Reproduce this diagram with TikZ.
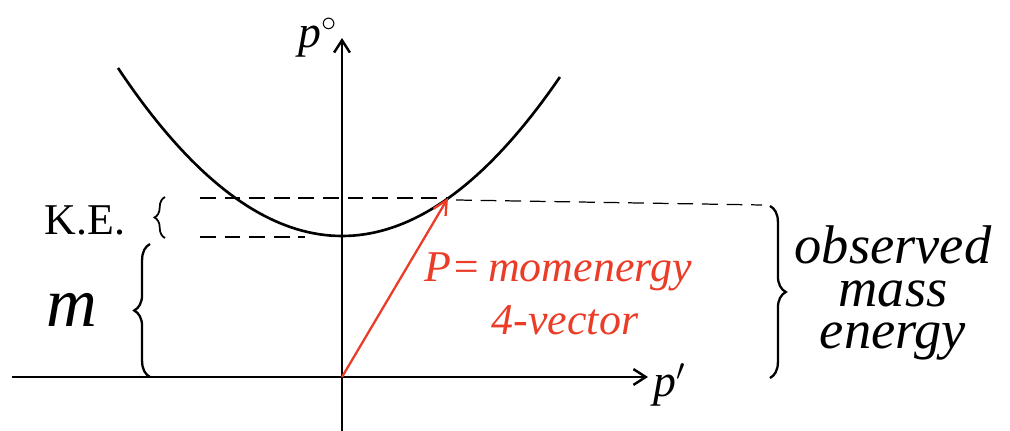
\documentclass[tikz,border=0pt]{standalone}
\usepackage{fontspec}
\setmainfont{Liberation Serif}
\usetikzlibrary{decorations.pathreplacing,arrows.meta}
\begin{document}
\begin{tikzpicture}[x=0.02cm,y=-0.02cm,
  every node/.style={inner sep=0pt},
  axis/.style={line width=1.4pt,-{Straight Barb[length=7pt,width=9pt]}},
  dsh/.style={dashed,dash pattern=on 9pt off 5pt,line width=0.7pt},
  brc/.style={decorate,decoration={brace,amplitude=9pt},line width=1.3pt},
  hand/.style={font=\itshape\fontsize{31}{24}\selectfont,align=center},
  redhand/.style={font=\itshape\fontsize{25}{26}\selectfont},
  red1/.style={color={rgb,255:red,235;green,60;blue,40}}]
\useasboundingbox (0,0) rectangle (1010,431);
\coordinate (O) at (342,377);
\coordinate (xa) at (648,377);
\coordinate (ya) at (342,38);
\coordinate (xl) at (12,377);
\coordinate (yb) at (342,431);
\coordinate (T) at (448,198);
\coordinate (V) at (342,236);
% axes
\draw[axis] (xl) -- (xa);
\draw[axis] (yb) -- (ya);
\node[font=\itshape\fontsize{26}{28}\selectfont] (px) at (670,385) {p$'$};
\node[font=\itshape\fontsize{26}{28}\selectfont] (p0) at (318,38) {p$^{\circ}$};
% curve
\draw[line width=1.5pt,domain=-2.24:2.18,samples=80] plot ({342+100*\x},{236-33.48*\x*\x});
% dashed lines
\draw[dsh] (200,198) -- (T);
\draw[dsh] (T) ++(8,2) -- (762,205);
\draw[dsh] (200,237) -- (305,237);
% red arrow
\draw[red1,line width=1.3pt,-{Straight Barb[length=8pt,width=8pt]}] (O) -- (T);
\node[red1,redhand,anchor=base] (pl1) at (558,282) {P=\,momenergy};
\node[red1,redhand,anchor=base] (pl2) at (565,335) {4-vector};
% left labels
\node[font=\fontsize{25}{26}\selectfont] (ke) at (85,220) {K.E.};
\draw[brc,line width=1pt,decoration={brace,amplitude=6pt}] (165,238) -- (165,197);
\node[font=\itshape\fontsize{40}{40}\selectfont] (m) at (72,310) {m};
\draw[brc] (150,377) -- (150,244);
% right brace and text
\draw[brc] (770,206) -- (770,378);
\node[hand] (t1) at (893,293) {observed\\mass\\energy};
\end{tikzpicture}
\end{document}
